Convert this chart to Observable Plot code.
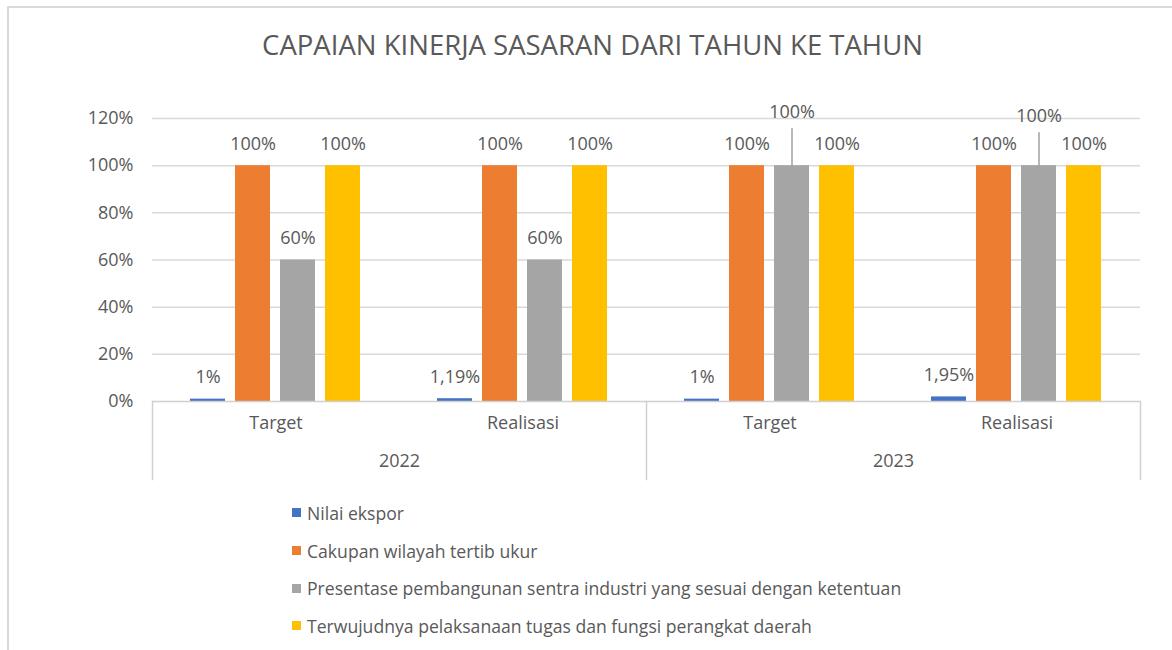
<!DOCTYPE html>
<html>
<head>
<meta charset="utf-8">
<script src="https://cdn.jsdelivr.net/npm/d3@7"></script>
<script src="https://cdn.jsdelivr.net/npm/@observablehq/plot@0.6"></script>
<style>
  html, body { margin: 0; padding: 0; background: #fff; }
  body { width: 1172px; height: 650px; overflow: hidden; position: relative;
         font-family: "Open Sans", sans-serif; color: #595959; }
  #border { position: absolute; left: 7px; top: 6px; width: 1300px; height: 800px;
            border-top: 2px solid #d9d9d9; border-left: 2px solid #d9d9d9; }
  #wrap { position: absolute; left: 0; top: 0; width: 1172px; }
  #title { height: 90px; line-height: 90px; text-align: center; font-size: 27.5px;
           padding-left: 13px; box-sizing: border-box; white-space: nowrap; }
  #legend { padding-top: 10px; padding-left: 292px; font-size: 17.6px; }
  .item { height: 37.7px; display: flex; align-items: center; }
  .sw { width: 9px; height: 9px; margin-right: 6px; flex: none; }
  svg { display: block; }
</style>
</head>
<body>
<div id="border"></div>
<div id="wrap">
  <div id="title">CAPAIAN KINERJA SASARAN DARI TAHUN KE TAHUN</div>
  <div id="plot"></div>
  <div id="legend"></div>
</div>
<script>
// ---- data ----
const categories = ["Target", "Realisasi", "Target", "Realisasi"];
const years = ["2022", "2022", "2023", "2023"];
const seriesNames = [
  "Nilai ekspor",
  "Cakupan wilayah tertib ukur",
  "Presentase pembangunan sentra industri yang sesuai dengan ketentuan",
  "Terwujudnya pelaksanaan tugas dan fungsi perangkat daerah"
];
const nilaiEkspor = [0.01, 0.0119, 0.01, 0.0195];
const cakupanWilayah = [1, 1, 1, 1];
const presentaseSentra = [0.6, 0.6, 1, 1];
const terwujudnya = [1, 1, 1, 1];
const yTicks = [0, 0.2, 0.4, 0.6, 0.8, 1.0, 1.2];
const seriesColors = ["#4472C4", "#ED7D31", "#A5A5A5", "#FFC000"];

// ---- build table ----
const seriesValues = [nilaiEkspor, cakupanWilayah, presentaseSentra, terwujudnya];
const keys = categories.map((c, i) => years[i] + " " + c);
const rows = [];
keys.forEach((k, i) => {
  seriesNames.forEach((s, j) => {
    rows.push({key: k, year: years[i], category: categories[i], series: s, si: j, value: seriesValues[j][i]});
  });
});
const fmt = v => (Math.round(v * 10000) / 100).toString().replace(".", ",") + "%";
// a label is lifted (with a leader line) when it would collide with its neighbours' labels
const isLifted = r => r.si === 2 && r.value === seriesValues[1][keys.indexOf(r.key)];
const normalRows = rows.filter(r => !isLifted(r));
const liftedTarget = rows.filter(r => isLifted(r) && r.category === "Target");
const liftedReal = rows.filter(r => isLifted(r) && r.category === "Realisasi");

const catRows = keys.map((k, i) => ({key: k, label: categories[i]}));
const yearRows = [...new Set(years)].map(y => ({
  year: y,
  key: keys[years.indexOf(y) + 1] // label sits on the boundary between the two categories of the year
}));
const yearFirstKeys = [...new Set(years)].map(y => keys[years.indexOf(y)]);

// ---- geometry ----
const marginTop = 28, marginBottom = 5, height = 394;
const yMin = -0.3307, yMax = 1.2;
const innerH = height - marginTop - marginBottom;
const zeroInset = (yMax - 0) / (yMax - yMin) * innerH;

const line = {draw(ctx, l) { ctx.moveTo(0, 0); ctx.lineTo(0, -l); }};
const textColor = "#595959";

const plot = Plot.plot({
  width: 1172,
  height,
  marginLeft: 152,
  marginRight: 32,
  marginTop,
  marginBottom,
  style: {fontFamily: '"Open Sans", sans-serif', fontSize: "18px", color: textColor, background: "transparent"},
  fx: {domain: keys, padding: 0, axis: null},
  x: {domain: seriesNames, paddingInner: 0.222, paddingOuter: 0.855, axis: null},
  y: {domain: [yMin, yMax], axis: null},
  color: {domain: seriesNames, range: seriesColors},
  marks: [
    Plot.gridY({ticks: yTicks.filter(t => t > 0), stroke: "#d9d9d9", strokeOpacity: 1, strokeWidth: 1.5}),
    Plot.axisY({ticks: yTicks, tickFormat: d => Math.round(d * 100) + "%", tickSize: 0, tickPadding: 19, fontSize: 18, fill: textColor, label: null}),
    Plot.barY(rows, {fx: "key", x: "series", y: "value", fill: "series"}),
    Plot.ruleY([0], {stroke: "#d0d0d0", strokeWidth: 1.5}),
    Plot.frame({anchor: "left", fx: [yearFirstKeys[0]], insetTop: zeroInset, stroke: "#d0d0d0", strokeWidth: 1.5}),
    Plot.frame({anchor: "left", fx: [yearFirstKeys[1]], insetTop: zeroInset, stroke: "#d0d0d0", strokeWidth: 1.5}),
    Plot.frame({anchor: "right", fx: [keys[keys.length - 1]], insetTop: zeroInset, stroke: "#d0d0d0", strokeWidth: 1.5}),
    Plot.text(normalRows, {fx: "key", x: "series", y: "value", text: d => fmt(d.value), dy: -21.5, fill: textColor, fontSize: 18}),
    Plot.vector(liftedTarget, {fx: "key", x: "series", y: "value", length: 37, rotate: 0, anchor: "start", shape: line, stroke: "#a0a0a0", strokeWidth: 1.5}),
    Plot.vector(liftedReal, {fx: "key", x: "series", y: "value", length: 33, rotate: 0, anchor: "start", shape: line, stroke: "#a0a0a0", strokeWidth: 1.5}),
    Plot.text(liftedTarget, {fx: "key", x: "series", y: "value", text: d => fmt(d.value), dy: -53, fill: textColor, fontSize: 18}),
    Plot.text(liftedReal, {fx: "key", x: "series", y: "value", text: d => fmt(d.value), dy: -49, fill: textColor, fontSize: 18}),
    Plot.text(catRows, {fx: "key", text: "label", frameAnchor: "bottom", dy: -51, fill: textColor, fontSize: 18}),
    Plot.text(yearRows, {fx: "key", text: "year", frameAnchor: "bottom-left", textAnchor: "middle", dy: -13, fill: textColor, fontSize: 18})
  ]
});
document.getElementById("plot").appendChild(plot);

// ---- legend ----
const legend = document.getElementById("legend");
seriesNames.forEach((s, j) => {
  const it = document.createElement("div");
  it.className = "item";
  const sw = document.createElement("span");
  sw.className = "sw";
  sw.style.background = seriesColors[j];
  const tx = document.createElement("span");
  tx.textContent = s;
  it.appendChild(sw);
  it.appendChild(tx);
  legend.appendChild(it);
});
</script>
</body>
</html>
